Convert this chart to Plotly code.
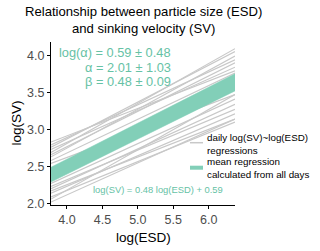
import plotly.graph_objects as go

# --- data ---
esd_ends = [3.775, 6.37]
daily_left = [2.83, 2.79, 2.76, 2.73, 2.69, 2.66, 2.63, 2.58, 2.54,
              2.27, 2.23, 2.20, 2.17, 2.14, 2.09, 2.06, 2.02]
daily_right = [3.79, 3.94, 4.05, 3.84, 4.09, 3.90, 3.99, 3.76, 3.47,
               3.41, 3.27, 3.34, 3.14, 3.21, 3.10, 3.47, 3.14]
mean_lower = [2.29, 3.52]
mean_upper = [2.49, 3.75]
x_ticks = [4.0, 4.5, 5.0, 5.5, 6.0]
y_ticks = [2.0, 2.5, 3.0, 3.5, 4.0]
stats_text = ["log(\u03b1) = 0.59 \u00b1 0.48", "\u03b1 = 2.01 \u00b1 1.03", "\u03b2 = 0.48 \u00b1 0.09"]
equation_text = "log(SV) = 0.48 log(ESD) + 0.59"

TEAL = "#66c2a5"
BAND = "#82cfb8"
GRAY = "#c8c8c8"
FONT = "Liberation Sans"

L, R, T, B = 51, 235, 42, 205
W, H = R - L, B - T


def px(x):
    return (x - L) / W


def py(y):
    return (B - y) / H


fig = go.Figure()
for a, b in zip(daily_left, daily_right):
    fig.add_trace(go.Scatter(x=esd_ends, y=[a, b], mode="lines",
                             line=dict(color=GRAY, width=1.2),
                             showlegend=False, hoverinfo="skip"))
fig.add_trace(go.Scatter(x=esd_ends, y=mean_lower, mode="lines",
                         line=dict(color=BAND, width=0.5), showlegend=False, hoverinfo="skip"))
fig.add_trace(go.Scatter(x=esd_ends, y=mean_upper, mode="lines", fill="tonexty",
                         fillcolor=BAND, line=dict(color=BAND, width=0.5),
                         showlegend=False, hoverinfo="skip"))

annotations = [
    dict(text="Relationship between particle size (ESD)<br>and sinking velocity (SV)",
         x=px(143), y=py(20), xref="paper", yref="paper", yanchor="middle",
         showarrow=False, font=dict(family=FONT, size=13.1, color="black")),
    dict(text="log(ESD)", x=px(143), y=py(237), xref="paper", yref="paper",
         yanchor="middle", showarrow=False, font=dict(family=FONT, size=13.5, color="black")),
    dict(text="log(SV)", x=px(16), y=py(123.5), xref="paper", yref="paper", textangle=-90,
         xanchor="center", yanchor="middle", showarrow=False,
         font=dict(family=FONT, size=13.5, color="black")),
]
ys = [52.5, 67, 81.5]
for t, yy in zip(stats_text, ys):
    annotations.append(dict(text=t, xref="paper", yref="paper",
                            x=px(172.5), y=py(yy),
                            xanchor="right", yanchor="middle", showarrow=False,
                            font=dict(family=FONT, size=12.8, color=TEAL)))
annotations.append(dict(text=equation_text, xref="paper", yref="paper",
                        x=px(225), y=py(189),
                        xanchor="right", yanchor="middle", showarrow=False,
                        font=dict(family=FONT, size=9.4, color=TEAL)))
annotations.append(dict(text="daily log(SV)~log(ESD)<br>regressions", xref="paper", yref="paper",
                        x=px(205), y=py(143.5),
                        xanchor="left", yanchor="middle", align="left", showarrow=False,
                        font=dict(family=FONT, size=9.8, color="black")))
annotations.append(dict(text="mean regression<br>calculated from all days", xref="paper", yref="paper",
                        x=px(205), y=py(167.5),
                        xanchor="left", yanchor="middle", align="left", showarrow=False,
                        font=dict(family=FONT, size=9.8, color="black")))

shapes = [
    dict(type="line", xref="paper", yref="paper",
         x0=px(190), x1=px(203), y0=py(142.7), y1=py(142.7),
         line=dict(color=GRAY, width=1.5)),
    dict(type="line", xref="paper", yref="paper",
         x0=px(190), x1=px(203), y0=py(167.7), y1=py(167.7),
         line=dict(color=BAND, width=4)),
]

fig.update_layout(
    width=320, height=251,
    margin=dict(l=L, r=320 - R, t=T, b=251 - B, autoexpand=False),
    paper_bgcolor="white", plot_bgcolor="white",
    font=dict(family=FONT),
    annotations=annotations, shapes=shapes,
    showlegend=False, hovermode=False,
)
fig.update_xaxes(range=esd_ends, tickvals=x_ticks, ticktext=[f"{v:.1f}" for v in x_ticks],
                 showgrid=False, zeroline=False, showline=True, linecolor="black", linewidth=1.2,
                 ticks="outside", ticklen=3, tickcolor="black", automargin=False,
                 tickfont=dict(family=FONT, size=12.5, color="#4d4d4d"))
fig.update_yaxes(range=[1.98, 4.18], tickvals=y_ticks, ticktext=[f"{v:.1f}" for v in y_ticks],
                 showgrid=False, zeroline=False, showline=True, linecolor="black", linewidth=1.2,
                 ticks="outside", ticklen=3, tickcolor="black", automargin=False,
                 tickfont=dict(family=FONT, size=12.5, color="#4d4d4d"))

fig.write_html("out.html", config={"displayModeBar": False},
               post_script="document.body.style.margin='0';document.body.style.padding='0';")
